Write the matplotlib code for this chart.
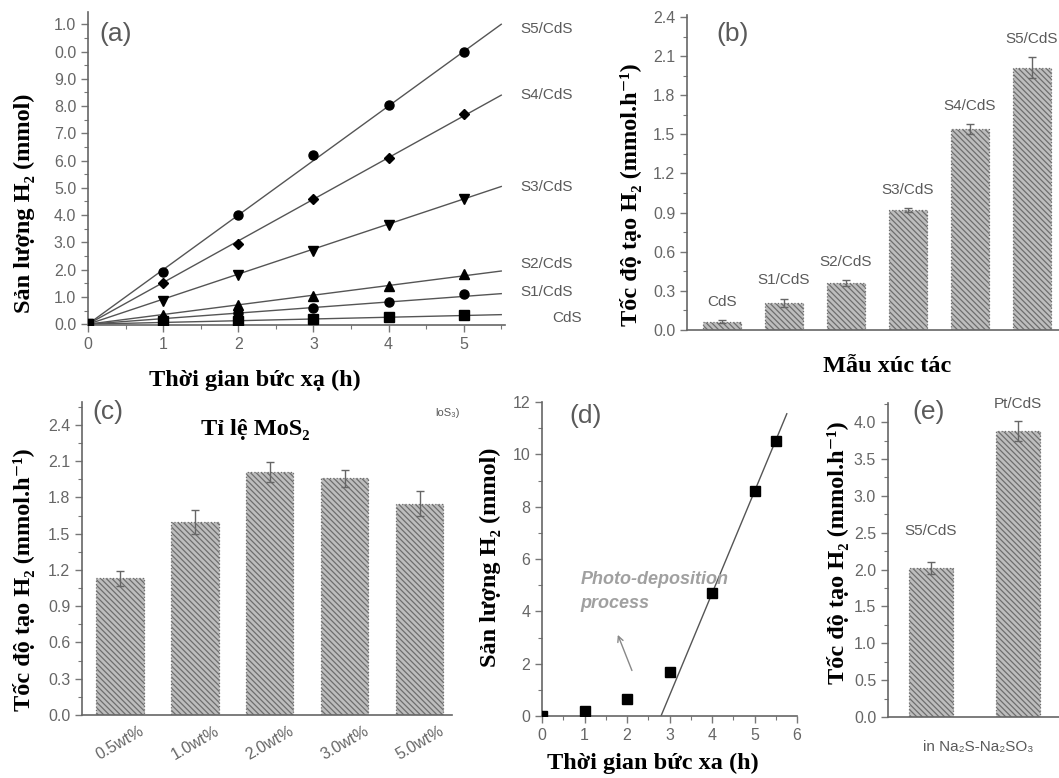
import numpy as np
import matplotlib
matplotlib.use("Agg")
import matplotlib.pyplot as plt
from matplotlib.ticker import MultipleLocator, FormatStrFormatter

plt.rcParams['font.family'] = ['Liberation Sans', 'DejaVu Sans']
plt.rcParams['hatch.color'] = '#6e6e6e'
plt.rcParams['hatch.linewidth'] = 0.9

# ---- data ----
# (a) H2 amount vs irradiation time
t_a = [0, 1, 2, 3, 4, 5]
a_names = ['S5/CdS', 'S4/CdS', 'S3/CdS', 'S2/CdS', 'S1/CdS', 'CdS']
a_vals = {
    'S5/CdS': [0, 1.9, 4.0, 6.2, 8.05, 10.0],
    'S4/CdS': [0, 1.5, 2.95, 4.6, 6.1, 7.7],
    'S3/CdS': [0, 0.85, 1.8, 2.7, 3.65, 4.6],
    'S2/CdS': [0, 0.35, 0.7, 1.05, 1.4, 1.85],
    'S1/CdS': [0, 0.2, 0.4, 0.6, 0.8, 1.1],
    'CdS':    [0, 0.1, 0.12, 0.2, 0.28, 0.33],
}
a_markers = ['o', 'D', 'v', '^', 'o', 's']
a_fit_end = [11.0, 8.4, 5.05, 1.95, 1.12, 0.35]   # fitted line value at t=5.5
a_ticklabels = ['0.0', '1.0', '2.0', '3.0', '4.0', '5.0', '6.0', '7.0', '8.0', '9.0', '0.0', '1.0']

# (b) rate per catalyst
b_names = ['CdS', 'S1/CdS', 'S2/CdS', 'S3/CdS', 'S4/CdS', 'S5/CdS']
b_rate = [0.065, 0.21, 0.36, 0.92, 1.54, 2.01]
b_err = [0.01, 0.03, 0.025, 0.015, 0.04, 0.08]

# (c) rate vs MoS2 loading
c_names = ['0.5wt%', '1.0wt%', '2.0wt%', '3.0wt%', '5.0wt%']
c_rate = [1.13, 1.60, 2.01, 1.96, 1.75]
c_err = [0.06, 0.10, 0.08, 0.07, 0.10]

# (d) Pt photo-deposition
t_d = [0, 1, 2, 3, 4, 5, 5.5]
h_d = [0.0, 0.2, 0.65, 1.7, 4.7, 8.6, 10.5]
d_fit_x = [2.8, 5.76]
d_fit_y = [0.0, 11.55]

# (e) S5/CdS vs Pt/CdS
e_names = ['S5/CdS', 'Pt/CdS']
e_rate = [2.02, 3.88]
e_err = [0.08, 0.14]

W, H = 1059, 778
fig = plt.figure(figsize=(W / 100, H / 100), dpi=100)

def px_axes(x0, y0, x1, y1):
    return fig.add_axes([x0 / W, 1 - y1 / H, (x1 - x0) / W, (y1 - y0) / H])

def fx(x):
    return x / W

def fy(y):
    return 1 - y / H

gray = '#5a5a5a'
serif = ['Liberation Serif', 'DejaVu Serif']
LAB = 17.5

def style(ax):
    for s in ['top', 'right']:
        ax.spines[s].set_visible(False)
    for s in ['left', 'bottom']:
        ax.spines[s].set_color('#666666')
        ax.spines[s].set_linewidth(1.2)
    ax.tick_params(which='both', direction='out', colors='#777777', labelcolor='#666666', labelsize=11.5)
    ax.tick_params(which='major', length=5, width=1)
    ax.tick_params(which='minor', length=3, width=0.8)

def bars(ax, x, vals, errs, width):
    ax.bar(x, vals, width, color='#bdbdbd', edgecolor='#6e6e6e', linewidth=0.9,
           linestyle=':', hatch='\\\\\\\\\\\\', zorder=2)
    ax.errorbar(x, vals, yerr=errs, fmt='none', ecolor='#666666', elinewidth=1,
                capsize=3, capthick=1, zorder=3)

def ylabel(x, y, s):
    fig.text(fx(x), fy(y), s, family=serif, fontweight='bold', fontsize=LAB,
             ha='center', va='center', rotation=90)

def xlabel(x, y, s):
    fig.text(fx(x), fy(y), s, family=serif, fontweight='bold', fontsize=LAB,
             ha='center', va='center')

def panel(x, y, s):
    fig.text(fx(x), fy(y), s, fontsize=19, color=gray, va='center')

# ---- (a) ----
ax = px_axes(88, 12, 505, 325)
style(ax)
for name, m, yend in zip(a_names, a_markers, a_fit_end):
    ax.plot([0, 5.5], [0, yend], color='#555555', lw=1, zorder=1)
    ax.plot(t_a, a_vals[name], ls='none', marker=m, color='black', ms=6.5 if m != 'D' else 5.5, zorder=3)
ax.set_xlim(0, 5.55)
ax.set_ylim(-0.03, 11.45)
ax.set_xticks(range(6))
ax.set_yticks(range(12))
ax.set_yticklabels(a_ticklabels)
ax.xaxis.set_minor_locator(MultipleLocator(0.5))
ax.yaxis.set_minor_locator(MultipleLocator(0.5))
panel(99, 34, '(a)')
lab_y = [29, 95, 187, 264, 292, 318]
for name, yy in zip(a_names, lab_y):
    fig.text(fx(520 if name != 'CdS' else 552), fy(yy), name, fontsize=11,
             color=gray, va='center')
xlabel(255, 380, 'Thời gian bức xạ (h)')
ylabel(24, 203, 'Sản lượng H₂ (mmol)')

# ---- (b) ----
ax = px_axes(687, 15, 1059, 330)
style(ax)
xb = np.arange(len(b_names))
bars(ax, xb, b_rate, b_err, 0.6)
for xi, v, e, n in zip(xb, b_rate, b_err, b_names):
    ax.text(xi, v + e + 0.14, n, ha='center', va='center', fontsize=11, color=gray)
ax.set_xlim(-0.565, 5.435)
ax.set_ylim(0, 2.415)
ax.set_xticks([])
ax.set_yticks(np.arange(0, 2.41, 0.3))
ax.yaxis.set_major_formatter(FormatStrFormatter('%.1f'))
ax.yaxis.set_minor_locator(MultipleLocator(0.15))
panel(716, 34, '(b)')
xlabel(887, 366, 'Mẫu xúc tác')
ylabel(631, 195, 'Tốc độ tạo H₂ (mmol.h⁻¹)')

# ---- (c) ----
ax = px_axes(82, 402, 452, 715)
style(ax)
xc = np.arange(len(c_names))
bars(ax, xc, c_rate, c_err, 0.63)
ax.set_xlim(-0.507, 4.43)
ax.set_ylim(0, 2.59)
ax.set_xticks(xc)
ax.set_xticklabels(c_names, rotation=30, ha='center', va='top')
ax.tick_params(axis='x', length=0, pad=6)
ax.set_yticks(np.arange(0, 2.41, 0.3))
ax.yaxis.set_major_formatter(FormatStrFormatter('%.1f'))
ax.yaxis.set_minor_locator(MultipleLocator(0.15))
panel(92, 412, '(c)')
fig.text(fx(255), fy(430), 'Tỉ lệ MoS₂', family=serif, fontweight='bold',
         fontsize=LAB, ha='center', va='center')
fig.text(fx(435), fy(413), 'loS₃)', fontsize=8, color=gray, va='center')
ylabel(24, 580, 'Tốc độ tạo H₂ (mmol.h⁻¹)')

# ---- (d) ----
ax = px_axes(542, 402, 797, 716)
style(ax)
ax.plot(d_fit_x, d_fit_y, color='#555555', lw=1, zorder=1)
ax.plot(t_d, h_d, ls='none', marker='s', color='black', ms=6.5, zorder=3)
ax.set_xlim(0, 6)
ax.set_ylim(0, 12)
ax.set_xticks(range(7))
ax.set_yticks(range(0, 13, 2))
ax.xaxis.set_minor_locator(MultipleLocator(0.5))
ax.yaxis.set_minor_locator(MultipleLocator(1))
panel(569, 416, '(d)')
ax.text(0.9, 5.2, 'Photo-deposition', fontsize=13, style='italic', fontweight='bold',
        color='#a0a0a0', va='center')
ax.text(0.9, 4.3, 'process', fontsize=13, style='italic', fontweight='bold',
        color='#a0a0a0', va='center')
ax.annotate('', xy=(1.76, 3.2), xytext=(2.14, 1.64),
            arrowprops=dict(arrowstyle='->', color='#888888', lw=1))
xlabel(653, 763, 'Thời gian bức xa (h)')
ylabel(490, 557, 'Sản lượng H₂ (mmol)')

# ---- (e) ----
ax = px_axes(888, 403, 1059, 717)
style(ax)
xe = np.arange(len(e_names))
bars(ax, xe, e_rate, e_err, 0.51)
for xi, v, e, n in zip(xe, e_rate, e_err, e_names):
    ax.text(xi, v + e + 0.42 if n == 'S5/CdS' else v + e + 0.22, n, ha='center',
            va='center', fontsize=11, color=gray)
ax.set_xlim(-0.494, 1.471)
ax.set_ylim(0, 4.26)
ax.set_xticks([])
ax.set_yticks(np.arange(0, 4.01, 0.5))
ax.yaxis.set_major_formatter(FormatStrFormatter('%.1f'))
ax.yaxis.set_minor_locator(MultipleLocator(0.25))
panel(912, 412, '(e)')
fig.text(fx(978), fy(747), 'in Na₂S-Na₂SO₃', fontsize=11, color=gray,
         ha='center', va='center')
ylabel(838, 553, 'Tốc độ tạo H₂ (mmol.h⁻¹)')

fig.savefig('out.png', dpi=100)
